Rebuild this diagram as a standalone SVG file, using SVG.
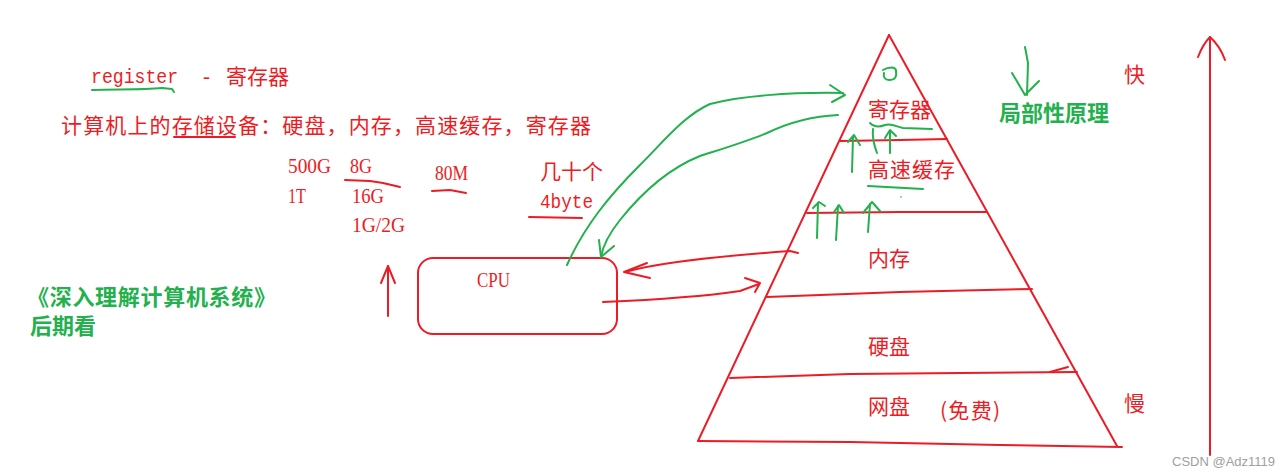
<svg xmlns="http://www.w3.org/2000/svg" width="1286" height="476" viewBox="0 0 1286 476">
<style>
.r{stroke:#ED1C24;stroke-width:2;fill:none;stroke-linecap:round;stroke-linejoin:round}
.g{stroke:#22B14C;stroke-width:2;fill:none;stroke-linecap:round;stroke-linejoin:round}
.cj{font-family:"Noto Sans CJK SC","Noto Sans",sans-serif;font-size:21px;fill:#ED1C24}
.cg{font-family:"Noto Sans CJK SC","Noto Sans",sans-serif;font-size:22px;font-weight:bold;fill:#22B14C}
.lt{font-family:"Liberation Serif",serif;font-size:21px;fill:#ED1C24}
.mo{font-family:"Liberation Mono",monospace;font-size:20px;fill:#ED1C24}
.wm{font-family:"Liberation Sans",Arial,sans-serif;font-size:13px;fill:#A0A0A0}
</style>
<rect width="1286" height="476" fill="#FFFFFF"/>

<g id="notes">
  <text class="mo" x="91" y="83" textLength="87" lengthAdjust="spacingAndGlyphs">register</text>
  <text class="lt" x="203" y="83">-</text>
  <text class="cj" x="226" y="84">寄存器</text>
  <path class="g" d="M92,90 C115,89 140,90 162,88 L172,89 L174,92"/>
  <text class="cj" x="61" y="133" textLength="530" lengthAdjust="spacing">计算机上的存储设备：硬盘，内存，高速缓存，寄存器</text>
  <path class="r" d="M174,137 L235,137"/>
  <text class="lt" x="288" y="173" textLength="43" lengthAdjust="spacingAndGlyphs">500G</text>
  <text class="lt" x="288" y="203" textLength="18" lengthAdjust="spacingAndGlyphs">1T</text>
  <text class="lt" x="350" y="173" textLength="22" lengthAdjust="spacingAndGlyphs">8G</text>
  <path class="r" d="M345,180 L370,181 L383,183 L400,187"/>
  <text class="lt" x="352" y="203" textLength="32" lengthAdjust="spacingAndGlyphs">16G</text>
  <text class="lt" x="352" y="232" textLength="53" lengthAdjust="spacingAndGlyphs">1G/2G</text>
  <text class="lt" x="435" y="180" textLength="33" lengthAdjust="spacingAndGlyphs">80M</text>
  <path class="r" d="M432,191 L450,190 L466,193"/>
  <text class="cj" x="540" y="179">几十个</text>
  <text class="mo" x="540" y="208" textLength="53" lengthAdjust="spacingAndGlyphs">4byte</text>
  <path class="r" d="M529,217 L582,218"/>
  <text class="cg" x="27" y="305" textLength="249" lengthAdjust="spacing">《深入理解计算机系统》</text>
  <text class="cg" x="30" y="334">后期看</text>
</g>

<g id="cpu">
  <rect class="r" x="418" y="258" width="199" height="76" rx="15" ry="15"/>
  <text class="lt" x="477" y="287" textLength="33" lengthAdjust="spacingAndGlyphs">CPU</text>
</g>

<g id="pyramid">
  <path class="r" d="M889,35 L698,441"/>
  <path class="r" d="M889,35 L1117,446"/>
  <path class="r" d="M840,141 L900,140 L947,139"/>
  <path class="r" d="M807,213 L900,212 L987,212"/>
  <path class="r" d="M767,297 L900,292 L1032,289"/>
  <path class="r" d="M730,378 L850,374 L960,373 L1077,372"/>
  <path class="r" d="M1050,372 L1068,367"/>
  <path class="r" d="M698,441 L850,442 L1000,445 L1122,447"/>
  <text class="cj" x="868" y="117">寄存器</text>
  <text class="cj" x="868" y="177" textLength="87" lengthAdjust="spacing">高速缓存</text>
  <text class="cj" x="868" y="266">内存</text>
  <text class="cj" x="868" y="354">硬盘</text>
  <text class="cj" x="868" y="414">网盘</text>
  <text class="cj" x="940" y="418" font-size="19" textLength="60" lengthAdjust="spacing">(免费)</text>
</g>

<g id="speed">
  <path class="r" d="M1210,455 L1210,37"/>
  <path class="r" d="M1198,57 Q1203,44 1210,37 Q1220,46 1225,60"/>
  <text class="cj" x="1124" y="82">快</text>
  <text class="cj" x="1124" y="411">慢</text>
</g>

<g id="locality">
  <path class="g" d="M1025,47 L1028,63 L1027,95"/>
  <path class="g" d="M1012,73 L1025,95 L1039,81"/>
  <text class="cg" x="999" y="121">局部性原理</text>
</g>

<g id="connectors">
  <path class="g" d="M567,265 C585,225 610,195 640,165 C665,140 685,115 710,104 C740,96 790,92 843,93"/>
  <path class="g" d="M830,85 L845,95 L832,102"/>
  <path class="g" d="M838,115 C815,116 790,122 767,133 C745,142 725,148 700,156 C665,170 640,195 620,220 C608,235 603,245 601,257"/>
  <path class="g" d="M599,240 L601,257 L614,246"/>
  <path class="r" d="M625,272 C660,262 720,256 790,251 L798,253"/>
  <path class="r" d="M647,263 L624,272 L650,278"/>
  <path class="r" d="M603,302 C650,300 700,297 740,291 L759,284"/>
  <path class="r" d="M745,278 L760,283 L755,292"/>
  <path class="r" d="M388,316 L388,266"/>
  <path class="r" d="M381,283 L388,266 L395,283"/>
  <path class="g" d="M883,70 C888,67 896,66 896,71 C897,77 895,80 889,80 C885,80 883,77 884,73"/>
  <path class="g" d="M870,123 C875,128 880,127 885,125 C892,123 897,127 903,128 L932,129"/>
  <path class="g" d="M852,172 L853,137"/>
  <path class="g" d="M848,142 L854,135 L860,145"/>
  <path class="g" d="M877,153 C874,145 872,137 873,129"/>
  <path class="g" d="M890,153 L890,131"/>
  <path class="g" d="M885,138 L890,130 L896,136"/>
  <path class="g" d="M868,186 L923,189"/>
  <circle cx="901" cy="197" r="0.8" fill="#22B14C"/>
  <path class="g" d="M817,238 L818,203"/>
  <path class="g" d="M813,208 L819,202 L825,206"/>
  <path class="g" d="M836,240 L838,206"/>
  <path class="g" d="M834,212 L839,205 L844,213"/>
  <path class="g" d="M868,232 L870,204"/>
  <path class="g" d="M863,213 L872,202 L880,211"/>
</g>

<g id="watermark">
  <text class="wm" x="1172" y="466">CSDN @Adz1119</text>
</g>
</svg>
